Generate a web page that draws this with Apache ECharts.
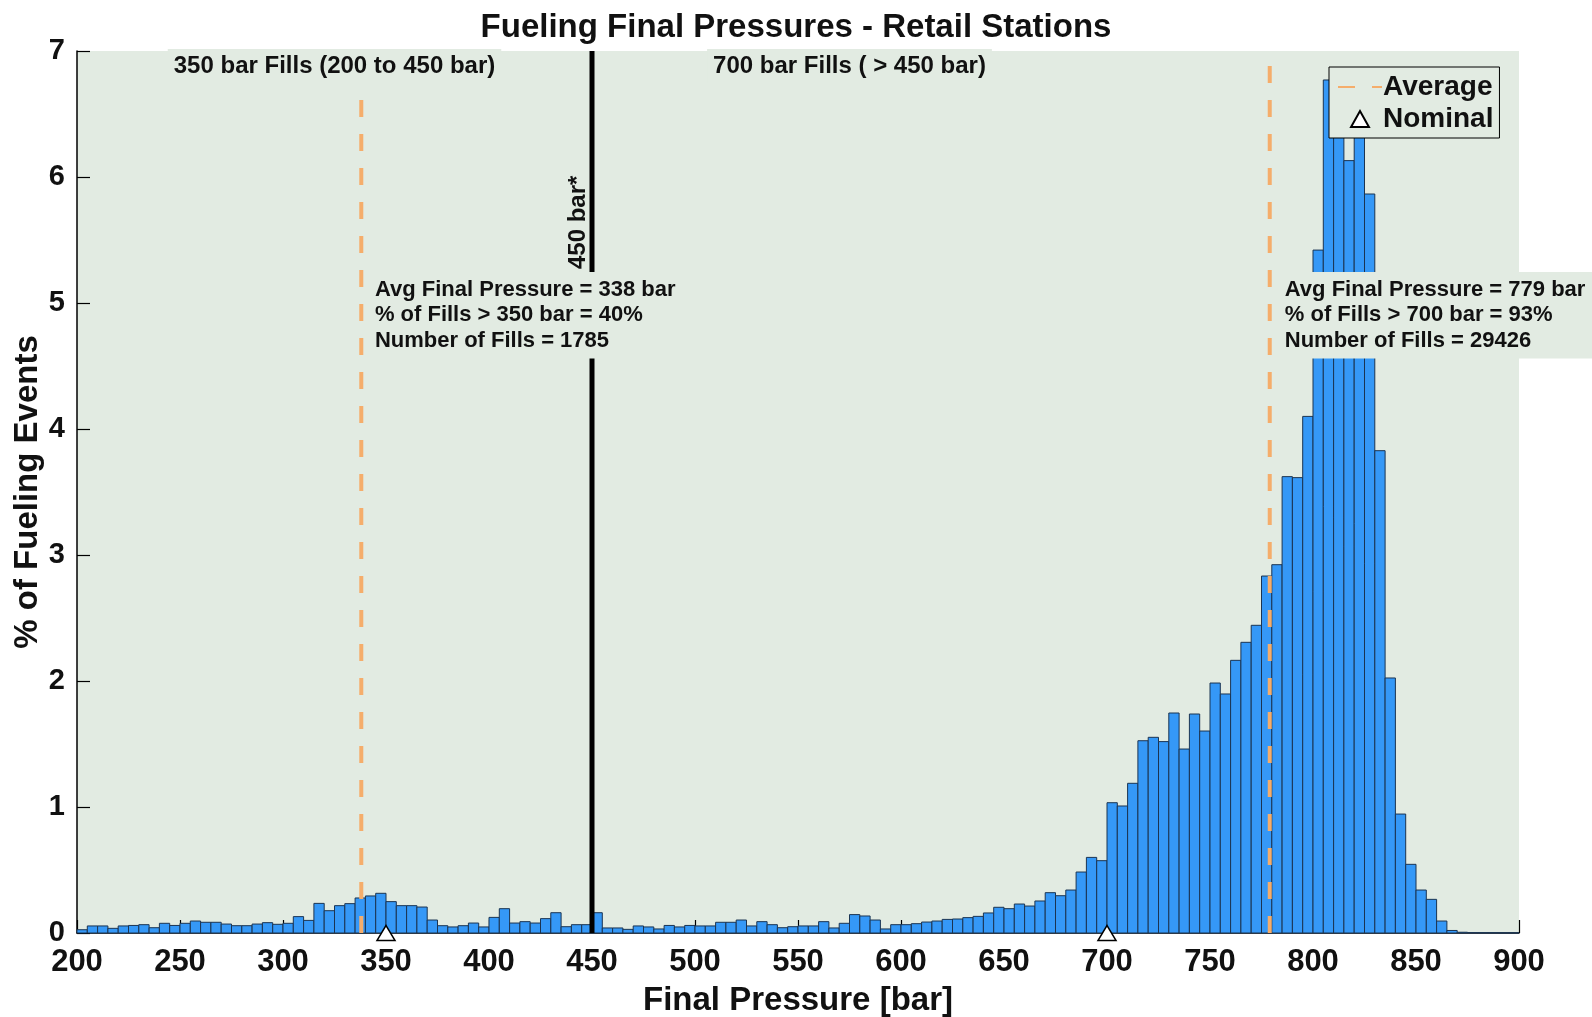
<!DOCTYPE html>
<html><head><meta charset="utf-8">
<script src="https://cdn.jsdelivr.net/npm/echarts@6/dist/echarts.min.js"></script>
<style>html,body{margin:0;padding:0;background:#fff}#c{width:1592px;height:1017px}</style>
</head><body><div id="c"></div>
<script>
// ---- data ----
const firstBin = 200, binWidth = 5;
// % of fueling events per 5-bar bin, 200..445 (350 bar fills)
const fills350 = [0.026,0.056,0.056,0.037,0.056,0.060,0.066,0.042,0.077,0.060,
  0.077,0.095,0.085,0.085,0.071,0.058,0.058,0.071,0.082,0.069,
  0.077,0.130,0.100,0.235,0.177,0.217,0.233,0.278,0.294,0.315,
  0.249,0.217,0.217,0.206,0.103,0.058,0.048,0.058,0.079,0.048,
  0.124,0.193,0.079,0.090,0.079,0.114,0.161,0.050,0.066,0.066];
// % of fueling events per 5-bar bin, 450..895 (700 bar fills)
const fills700 = [0.161,0.040,0.040,0.029,0.056,0.048,0.032,0.060,0.048,0.060,
  0.056,0.056,0.085,0.085,0.103,0.056,0.090,0.066,0.042,0.050,
  0.056,0.056,0.090,0.040,0.077,0.146,0.135,0.103,0.032,0.066,
  0.066,0.074,0.087,0.095,0.108,0.111,0.122,0.132,0.159,0.204,
  0.193,0.230,0.214,0.254,0.320,0.296,0.341,0.484,0.600,0.574,
  1.034,1.008,1.188,1.526,1.553,1.519,1.746,1.460,1.738,1.603,
  1.984,1.897,2.164,2.307,2.442,2.833,2.923,3.622,3.614,4.100,
  5.420,6.770,6.600,6.130,6.500,5.865,3.828,2.024,0.944,0.545,
  0.341,0.267,0.095,0.020,0.006,0.003,0.002,0.002,0.001,0.001];
const averages = [338, 779];
const nominals = [350, 700];
const boundary = 450;
const xRange = [200, 900], xStep = 50;
const yRange = [0, 7], yStep = 1;
const notes350 = ['Avg Final Pressure = 338 bar', '% of Fills > 350 bar = 40%', 'Number of Fills = 1785'];
const notes700 = ['Avg Final Pressure = 779 bar', '% of Fills > 700 bar = 93%', 'Number of Fills = 29426'];

// ---- build ----
const allVals = fills350.concat(fills700);
const bins = allVals.map((v, i) => [firstBin + i * binWidth, firstBin + (i + 1) * binWidth, v]);
const BG = '#e2ebe2';
const FONT = '"Liberation Sans", Arial, sans-serif';
const chart = echarts.init(document.getElementById('c'), null, {renderer: 'canvas'});

function textLabel(txt, opts) {
  return Object.assign({show: true, formatter: txt, color: '#111', fontFamily: FONT, fontWeight: 'bold'}, opts);
}

const option = {
  backgroundColor: '#fff',
  animation: false,
  title: {text: 'Fueling Final Pressures - Retail Stations', left: 'center', top: 6,
    textStyle: {fontSize: 33, fontWeight: 'bold', fontFamily: FONT, color: '#111'}},
  grid: {left: 77, right: 73, top: 51, bottom: 84, show: true, backgroundColor: BG, borderWidth: 0, outerBoundsMode: 'none'},
  legend: {
    data: [
      {name: 'Average', itemStyle: {opacity: 0}},
      {name: 'Nominal', icon: 'path://M0,17 L9.5,0 L19,17 Z'}
    ],
    orient: 'vertical', left: 1329, top: 67, selectedMode: false,
    backgroundColor: BG, borderColor: '#000', borderWidth: 1, padding: [6, 6, 5, 8], itemGap: 4,
    itemWidth: 44, itemHeight: 16, align: 'left', symbolKeepAspect: true,
    textStyle: {fontSize: 28, fontWeight: 'bold', fontFamily: FONT, color: '#111', padding: [0, 0, 0, -4]}
  },
  xAxis: {type: 'value', min: xRange[0], max: xRange[1], interval: xStep,
    name: 'Final Pressure [bar]', nameLocation: 'middle', nameGap: 51,
    nameTextStyle: {fontSize: 33, fontWeight: 'bold', fontFamily: FONT, color: '#111'},
    axisLine: {show: true, onZero: false, lineStyle: {color: '#000', width: 1.5}},
    axisTick: {show: true, inside: true, length: 13, lineStyle: {color: '#000', width: 1.2}},
    axisLabel: {fontSize: 31, fontWeight: 'bold', fontFamily: FONT, color: '#111', margin: 14},
    splitLine: {show: false}},
  yAxis: {type: 'value', min: yRange[0], max: yRange[1], interval: yStep,
    name: '% of Fueling Events', nameLocation: 'middle', nameGap: 33, nameRotate: 90, nameMoveOverlap: false,
    nameTextStyle: {fontSize: 33, fontWeight: 'bold', fontFamily: FONT, color: '#111'},
    axisLine: {show: true, lineStyle: {color: '#000', width: 1.5}},
    axisTick: {show: true, inside: true, length: 13, lineStyle: {color: '#000', width: 1.2}},
    axisLabel: {fontSize: 29, fontWeight: 'bold', fontFamily: FONT, color: '#111', margin: 12},
    splitLine: {show: false}},
  series: [
    {type: 'custom', name: 'hist', z: 2, data: bins, silent: true,
      encode: {x: [0, 1], y: 2},
      renderItem: function (params, api) {
        const p0 = api.coord([api.value(0), 0]);
        const p1 = api.coord([api.value(1), api.value(2)]);
        return {type: 'rect', shape: {x: p0[0], y: p1[1], width: p1[0] - p0[0], height: p0[1] - p1[1]},
          style: {fill: '#3598f7', stroke: '#1b3452', lineWidth: 1}};
      }},
    ...averages.map(a => ({type: 'line', name: 'Average', z: 3, silent: true, symbol: 'none', showSymbol: false,
      data: [[a, yRange[0]], [a, yRange[1]]],
      lineStyle: {color: '#f5ad6b', width: 4, type: [17, 17]}, itemStyle: {color: '#f5ad6b'}})),
    {type: 'line', name: 'boundary', z: 3, silent: true, symbol: 'none', data: [[boundary, yRange[0]], [boundary, yRange[1]]],
      lineStyle: {color: '#000', width: 5}},
    {type: 'scatter', name: 'Nominal', z: 6, clip: false, silent: true, symbol: 'triangle', symbolSize: [18, 15],
      data: nominals.map(n => [n, 0]),
      itemStyle: {color: '#fff', borderColor: '#000', borderWidth: 1.5, opacity: 1}},
    {type: 'scatter', name: 'notes', z: 10, clip: false, silent: true, symbolSize: 0,
      itemStyle: {opacity: 1},
      data: [
        {value: [325, 6.88], label: textLabel('350 bar Fills (200 to 450 bar)', {position: 'inside', fontSize: 24, backgroundColor: BG, padding: [5, 6]})},
        {value: [575, 6.88], label: textLabel('700 bar Fills ( > 450 bar)', {position: 'inside', fontSize: 24, backgroundColor: BG, padding: [5, 6]})},
        {value: [443.6, 5.64], label: textLabel('450 bar*', {position: 'inside', rotate: 90, fontSize: 24})},
        {value: [341.7, 5.246], label: textLabel(notes350.join('\n'), {position: [0, 0], align: 'left', verticalAlign: 'top',
          fontSize: 22, lineHeight: 25.5, backgroundColor: BG, padding: [5, 8, 5, 6]})},
        {value: [782.9, 5.246], label: textLabel(notes700.join('\n'), {position: [0, 0], align: 'left', verticalAlign: 'top',
          fontSize: 22, lineHeight: 25.5, backgroundColor: BG, padding: [5, 8, 5, 7]})}
      ]}
  ]
};
chart.setOption(option);
</script></body></html>
